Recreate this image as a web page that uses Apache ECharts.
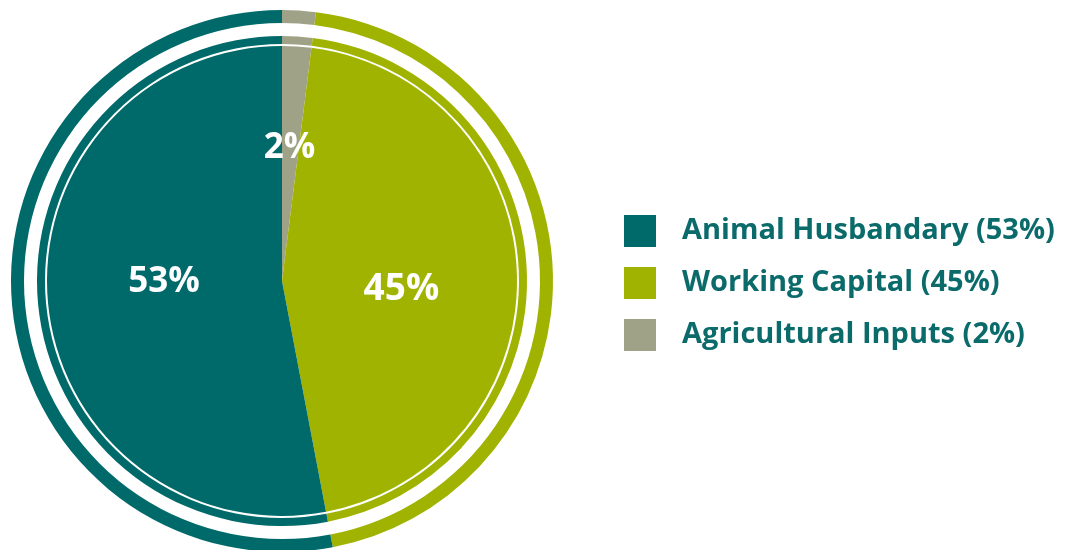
<!DOCTYPE html>
<html>
<head>
<meta charset="utf-8">
<script src="https://cdn.jsdelivr.net/npm/echarts@6/dist/echarts.min.js"></script>
<style>
html,body{margin:0;padding:0;background:#fff;}
#chart{width:1076px;height:550px;}
</style>
</head>
<body>
<div id="chart"></div>
<script>
// Data (clockwise from top)
var categories = ['Agricultural Inputs', 'Working Capital', 'Animal Husbandary'];
var values = [2, 45, 53];
var legendOrder = ['Animal Husbandary', 'Working Capital', 'Agricultural Inputs'];

// Styles (kept separate from data)
var colors = ['#a0a287', '#a0b300', '#006a6a'];
var labelOffsets = [[0, -13], [-1, 12], [2, -10]];
var labelSizes = [35, 37, 35];

var data = categories.map(function (c, i) {
  return {
    name: c,
    value: values[i],
    itemStyle: { color: colors[i] },
    label: { offset: labelOffsets[i], fontSize: labelSizes[i] }
  };
});
var plainData = categories.map(function (c, i) {
  return { name: c, value: values[i], itemStyle: { color: colors[i] } };
});

var center = [282, 281];
var FONT = '"Open Sans", sans-serif';

var chart = echarts.init(document.getElementById('chart'), null, { renderer: 'canvas' });
chart.setOption({
  animation: false,
  backgroundColor: '#ffffff',
  legend: {
    orient: 'vertical',
    left: 624,
    top: 215,
    padding: 0,
    itemWidth: 32,
    itemHeight: 32,
    itemGap: 20,
    icon: 'rect',
    data: legendOrder,
    selectedMode: false,
    formatter: function (name) {
      var i = categories.indexOf(name);
      return name + ' (' + values[i] + '%)';
    },
    textStyle: {
      color: '#0b6b6b',
      fontFamily: FONT,
      fontWeight: 'bold',
      fontSize: 29,
      padding: [0, 0, 0, 21]
    }
  },
  series: [
    {
      type: 'pie',
      center: center,
      radius: [0, 235],
      startAngle: 90,
      clockwise: true,
      silent: true,
      data: data,
      label: {
        show: true,
        position: 'inside',
        formatter: '{c}%',
        color: '#ffffff',
        fontFamily: FONT,
        fontWeight: 'bold',
        fontSize: 35
      },
      labelLine: { show: false },
      emphasis: { disabled: true }
    },
    {
      type: 'pie',
      center: center,
      radius: [237, 245],
      startAngle: 90,
      clockwise: true,
      silent: true,
      data: plainData,
      label: { show: false },
      labelLine: { show: false },
      emphasis: { disabled: true }
    },
    {
      type: 'pie',
      center: center,
      radius: [258, 271],
      startAngle: 90,
      clockwise: true,
      silent: true,
      data: plainData,
      label: { show: false },
      labelLine: { show: false },
      emphasis: { disabled: true }
    }
  ]
});
</script>
</body>
</html>
